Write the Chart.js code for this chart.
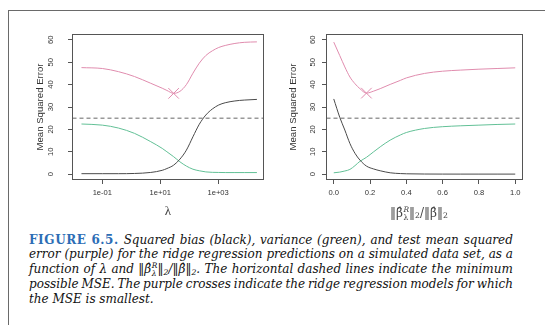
<!DOCTYPE html>
<html>
<head>
<meta charset="utf-8">
<script src="https://cdn.jsdelivr.net/npm/chart.js@4.4.1/dist/chart.umd.min.js"></script>
<style>
  html, body { margin: 0; padding: 0; background: #fff; }
  #page { position: relative; width: 545px; height: 325px; overflow: hidden; background: #fff; }
  #frame { position: absolute; left: 7.5px; top: 10px; width: 560px; height: 330px;
           border-left: 1.5px solid #6a6a6a; border-top: 1.5px solid #6a6a6a; }
  canvas { position: absolute; top: 0; }
  #cL { left: 0; }
  #cR { left: 272px; }
  #xtR { position: absolute; left: 419px; top: 213px; transform: translate(-50%, -50%);
         font-family: "DejaVu Serif", serif; font-size: 12px; color: #444; white-space: nowrap; }
  .ss { display: inline-flex; flex-direction: column; vertical-align: middle; font-size: 7.5px; line-height: 7.5px; margin-left: 0.5px; }
  .ss span:first-child { font-style: italic; }
  #xtR sub, #caption sub { font-size: 0.65em; vertical-align: -0.25em; line-height: 0; }
  #caption { position: absolute; left: 29px; top: 232.6px; width: 484px;
             font-family: "DejaVu Serif", serif; font-style: italic; font-size: 12px; color: #111; }
  .ln { height: 14.8px; line-height: 14.8px; white-space: nowrap; }
  .j { display: flex; justify-content: space-between; align-items: baseline; }
  .j > span { white-space: nowrap; }
  .fig { font-style: normal; font-weight: bold; color: #2c6db5; letter-spacing: 0.6px; }
</style>
</head>
<body>
<div id="page">
  <div id="frame"></div>
  <canvas id="cL" width="272" height="225"></canvas>
  <canvas id="cR" width="273" height="225"></canvas>
  <div id="xtR">‖β̂<span class="ss"><span>R</span><span>λ</span></span>‖<sub>2</sub>/‖β̂‖<sub>2</sub></div>
  <div id="caption">
    <div class="ln j"><span class="fig">FIGURE</span> <span class="fig">6.5.</span> Squared bias (black), variance (green), and test mean squared</div>
    <div class="ln j">error (purple) for the ridge regression predictions on a simulated data set, as a</div>
    <div class="ln j">function of λ and ‖β̂<span class="ss"><span>R</span><span>λ</span></span>‖<sub>2</sub>/‖β̂‖<sub>2</sub>. The horizontal dashed lines indicate the minimum</div>
    <div class="ln j">possible MSE. The purple crosses indicate the ridge regression models for which</div>
    <div class="ln">the MSE is smallest.</div>
  </div>
</div>
<script>
// ---------- data ----------
const lambdaValues = [0.019, 0.1, 0.36, 1.3, 4.7, 11.7, 17, 29, 48, 80, 135, 224, 375, 630, 1050, 1760, 3800, 8000, 21900];
const leftMSE      = [47.6, 47.2, 45.8, 43.6, 40.6, 38.4, 37.4, 36.1, 37.0, 40.0, 45.1, 49.6, 53.0, 55.1, 56.6, 57.5, 58.4, 58.9, 59.1];
const leftVariance = [22.4, 21.9, 20.6, 18.2, 14.5, 11.5, 10.0, 7.8, 5.5, 3.6, 2.2, 1.5, 1.0, 0.8, 0.75, 0.7, 0.7, 0.7, 0.7];
const leftBias     = [0.2, 0.2, 0.2, 0.3, 0.75, 1.7, 2.5, 4.0, 6.7, 10.7, 16.7, 22.3, 26.4, 29.1, 30.9, 31.9, 32.7, 33.1, 33.4];

const ratioValues   = [0, 0.033, 0.061, 0.089, 0.117, 0.144, 0.18, 0.22, 0.256, 0.311, 0.367, 0.4, 0.5, 0.6, 0.7, 0.8, 0.9, 1.0];
const rightMSE      = [59.0, 53.0, 47.9, 43.4, 40.4, 38.2, 36.2, 37.1, 38.2, 40.1, 41.9, 43.0, 45.0, 46.0, 46.5, 46.9, 47.2, 47.5];
const rightVariance = [0.6, 0.9, 1.4, 2.1, 3.8, 5.7, 7.5, 10.0, 12.2, 15.2, 17.5, 18.6, 20.4, 21.2, 21.6, 21.9, 22.2, 22.4];
const rightBias     = [33.6, 25.4, 19.7, 13.7, 9.3, 6.3, 3.6, 2.3, 1.5, 0.6, 0.25, 0.15, 0.05, 0.02, 0.01, 0.01, 0.01, 0.01];

const minPossibleMSE = 25;
const leftBest  = { x: 29,   y: 36.1 };
const rightBest = { x: 0.18, y: 36.2 };

const yTickValues = [0, 10, 20, 30, 40, 50, 60];
const yTickLabels = ['0', '10', '20', '30', '40', '50', '60'];
const leftXTickValues = [0.1, 10, 1000];
const leftXTickLabels = ['1e-01', '1e+01', '1e+03'];
const rightXTickValues = [0, 0.2, 0.4, 0.6, 0.8, 1.0];
const rightXTickLabels = ['0.0', '0.2', '0.4', '0.6', '0.8', '1.0'];

const leftXRange = [0.0093, 37000];
const rightXRange = [-0.04, 1.04];
const yRange = [-2.4, 62.4];

// ---------- caption: justified lines, same line breaks as the reference ----------
function splitWords(html) {
  const words = []; let cur = ''; let depth = 0; let inTag = false;
  for (let i = 0; i < html.length; i++) {
    const c = html[i];
    if (c === '<') { inTag = true; if (html[i + 1] === '/') depth--; else depth++; }
    if (c === '>') { inTag = false; }
    if (/\s/.test(c) && !inTag && depth === 0) { if (cur) words.push(cur); cur = ''; continue; }
    cur += c;
  }
  if (cur) words.push(cur);
  return words;
}
document.querySelectorAll('#caption .j').forEach(el => {
  el.innerHTML = splitWords(el.innerHTML.trim()).map(w => '<span>' + w + '</span>').join('');
});

// ---------- styles ----------
const COL_MSE = '#e08cae';
const COL_VAR = '#62c096';
const COL_BIAS = '#4a4a4a';
const COL_DASH = '#999999';
const sans = '"Liberation Sans", Arial, sans-serif';
const tickFont = { family: sans, size: 7.6 };
const titleFont = { family: sans, size: 9.6 };

const boxPlugin = {
  id: 'box',
  afterDatasetsDraw(chart) {
    const { ctx, chartArea: a } = chart;
    ctx.save();
    ctx.strokeStyle = '#555';
    ctx.lineWidth = 1;
    ctx.strokeRect(a.left, a.top, a.right - a.left, a.bottom - a.top);
    ctx.restore();
  }
};

function pts(xs, ys) { return xs.map((x, i) => ({ x: x, y: ys[i] })); }

function lineDs(data, color) {
  return { data: data, showLine: true, borderColor: color, borderWidth: 1, pointRadius: 0,
           cubicInterpolationMode: 'monotone', fill: false };
}

function build(canvasId, o) {
  const datasets = [
    lineDs(pts(o.xs, o.bias), COL_BIAS),
    lineDs(pts(o.xs, o.variance), COL_VAR),
    lineDs(pts(o.xs, o.mse), COL_MSE),
    { data: [{ x: o.xRange[0], y: minPossibleMSE }, { x: o.xRange[1], y: minPossibleMSE }],
      showLine: true, borderColor: COL_DASH, borderWidth: 1.5, borderDash: [4, 3], pointRadius: 0 },
    { data: [o.best], showLine: false, pointStyle: 'crossRot', pointRadius: 7.5,
      borderColor: COL_MSE, borderWidth: 1, backgroundColor: 'rgba(0,0,0,0)' }
  ];
  return new Chart(document.getElementById(canvasId), {
    type: 'scatter',
    data: { datasets: datasets },
    plugins: [boxPlugin],
    options: {
      responsive: false, animation: false, devicePixelRatio: 1, events: [],
      layout: { padding: { left: 0, top: 34.5, right: o.padRight, bottom: 0 } },
      plugins: { legend: { display: false }, tooltip: { enabled: false } },
      scales: {
        x: {
          type: o.xType, min: o.xRange[0], max: o.xRange[1], bounds: 'data', position: 'bottom',
          afterBuildTicks: s => { s.ticks = o.xTickValues.map(v => ({ value: v })); },
          afterFit: s => { s.height = 45.5; s.paddingLeft = 0; s.paddingRight = 0; },
          ticks: { font: tickFont, color: '#333', maxRotation: 0, minRotation: 0, padding: 4.8,
                   autoSkip: false, callback: (v, i) => o.xTickLabels[i] },
          grid: { drawOnChartArea: false, drawTicks: true, tickLength: 4.5, color: '#555', tickColor: '#555', lineWidth: 1 },
          border: { display: false },
          title: o.xTitle ? { display: true, text: o.xTitle, color: '#444',
                   font: { family: '"Liberation Serif", "DejaVu Serif", serif', size: 13 },
                   padding: { top: 0, bottom: 5.5 } } : { display: false }
        },
        y: {
          type: 'linear', min: yRange[0], max: yRange[1], bounds: 'data', position: 'left',
          afterBuildTicks: s => { s.ticks = yTickValues.map(v => ({ value: v })); },
          afterFit: s => { s.width = o.yAxisWidth; s.paddingTop = 0; s.paddingBottom = 0; },
          ticks: { font: tickFont, color: '#333', minRotation: 90, maxRotation: 90, crossAlign: 'center',
                   padding: o.yTickPad, autoSkip: false, callback: (v, i) => yTickLabels[i] },
          grid: { drawOnChartArea: false, drawTicks: true, tickLength: 4.5, color: '#555', tickColor: '#555', lineWidth: 1 },
          border: { display: false },
          title: { display: true, text: 'Mean Squared Error', color: '#333', font: titleFont,
                   padding: { top: o.yTitlePad, bottom: 0 } }
        }
      }
    }
  });
}

build('cL', {
  xs: lambdaValues, mse: leftMSE, variance: leftVariance, bias: leftBias, best: leftBest,
  xType: 'logarithmic', xRange: leftXRange, xTickValues: leftXTickValues, xTickLabels: leftXTickLabels,
  xTitle: 'λ', padRight: 2.5, yAxisWidth: 72.5, yTickPad: 13.3, yTitlePad: 34.2
});
build('cR', {
  xs: ratioValues, mse: rightMSE, variance: rightVariance, bias: rightBias, best: rightBest,
  xType: 'linear', xRange: rightXRange, xTickValues: rightXTickValues, xTickLabels: rightXTickLabels,
  xTitle: null, padRight: 22.5, yAxisWidth: 54.5, yTickPad: 4.5, yTitlePad: 15.7
});
</script>
</body>
</html>
